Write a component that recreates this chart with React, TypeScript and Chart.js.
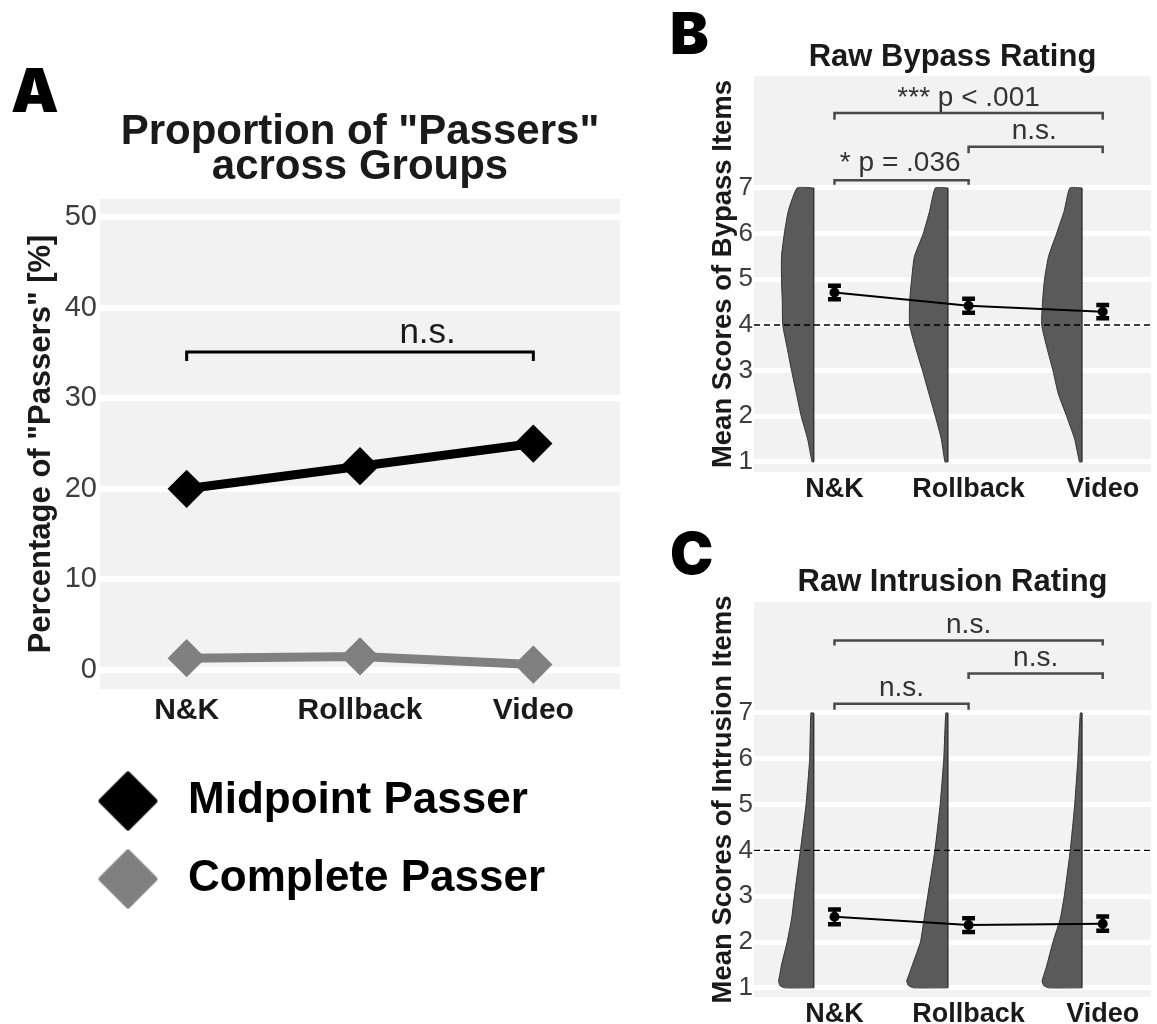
import React, { useEffect, useRef } from 'react';
import { Chart, registerables } from 'chart.js';

Chart.register(...registerables);
Chart.defaults.font.family = "'Liberation Sans', Arial, Helvetica, sans-serif";

// ---------- shared ----------
const GROUPS = ['N&K', 'Rollback', 'Video'];

// ---------- panel A data ----------
const PASS_TICKS = [0, 10, 20, 30, 40, 50];
const SERIES_NAMES = ['Midpoint Passer', 'Complete Passer'];
const MIDPOINT_PASSERS = [20, 22.5, 25];
const COMPLETE_PASSERS = [1.3, 1.5, 0.6];
const PASS_BRACKETS = [{ from: 1, to: 3, y: 35.1, drop: 34.1, label: 'n.s.', labelX: 2.39, labelY: 36.1 }];

// ---------- panel B / C data ----------
const RATING_TICKS = [1, 2, 3, 4, 5, 6, 7];
const SCALE_MIDPOINT = 4;

const BYPASS_MEAN = [4.71, 4.42, 4.29];
const BYPASS_SE = [0.15, 0.155, 0.145];
const BYPASS_LEVELS = [1, 1.5, 2, 2.5, 3, 3.5, 4, 4.5, 5, 5.5, 6, 6.5, 7];
const BYPASS_DENSITY_NK = [0.04, 0.15, 0.31, 0.43, 0.55, 0.66, 0.77, 0.78, 0.8, 0.8, 0.73, 0.63, 0.41];
const BYPASS_DENSITY_RB = [0.07, 0.16, 0.31, 0.47, 0.63, 0.8, 0.95, 0.95, 0.9, 0.83, 0.61, 0.45, 0.31];
const BYPASS_DENSITY_VD = [0.06, 0.18, 0.38, 0.59, 0.72, 0.87, 1.0, 0.98, 0.93, 0.83, 0.63, 0.44, 0.3];
const BYPASS_BRACKETS = [
  { from: 1, to: 3, y: 8.64, drop: 8.49, label: '*** p < .001', labelX: 2, labelY: 8.8 },
  { from: 2, to: 3, y: 7.9, drop: 7.76, label: 'n.s.', labelX: 2.49, labelY: 8.07 },
  { from: 1, to: 2, y: 7.17, drop: 7.07, label: '* p = .036', labelX: 1.49, labelY: 7.37 },
];

const INTRUSION_MEAN = [2.55, 2.37, 2.4];
const INTRUSION_SE = [0.16, 0.15, 0.155];
const INTRUSION_LEVELS = [1, 1.05, 1.15, 1.3, 1.5, 2, 2.5, 3, 4, 5, 6, 7];
const INTRUSION_DENSITY_NK = [0.73, 0.84, 0.87, 0.84, 0.8, 0.66, 0.55, 0.48, 0.33, 0.19, 0.1, 0.07];
const INTRUSION_DENSITY_RB = [0.85, 0.98, 1.02, 0.96, 0.88, 0.68, 0.59, 0.5, 0.32, 0.19, 0.1, 0.05];
const INTRUSION_DENSITY_VD = [0.83, 0.95, 0.99, 0.94, 0.87, 0.72, 0.54, 0.44, 0.29, 0.18, 0.1, 0.04];
const INTRUSION_BRACKETS = [
  { from: 1, to: 3, y: 8.58, drop: 8.47, label: 'n.s.', labelX: 2, labelY: 8.74 },
  { from: 2, to: 3, y: 7.86, drop: 7.74, label: 'n.s.', labelX: 2.5, labelY: 8.02 },
  { from: 1, to: 2, y: 7.2, drop: 7.07, label: 'n.s.', labelX: 1.5, labelY: 7.36 },
];

// ---------- styling constants ----------
const PANEL_BG = '#f2f2f2';
const VIOLIN_OFFSET = -0.155;
const VIOLIN_WIDTH = 0.3;
const CAP_HALF = 0.048;
const TEXT_DARK = '#1a1a1a';
const TICK_GREY = '#3d3d3d';

type Bracket = { from: number; to: number; y: number; drop: number; label: string; labelX: number; labelY: number };

function panelBgPlugin() {
  return {
    id: 'panelBg',
    beforeDraw(chart: any) {
      const { ctx, chartArea: ca } = chart;
      ctx.save();
      ctx.fillStyle = PANEL_BG;
      ctx.fillRect(ca.left, ca.top, ca.width, ca.height);
      ctx.restore();
    },
  };
}

function overlayPlugin(brackets: Bracket[], font: string, color: string, letter: string, lx: number, ly: number, letterFont: string) {
  return {
    id: 'overlay',
    afterDatasetsDraw(chart: any) {
      const { ctx } = chart;
      const xs = chart.scales.x;
      const ys = chart.scales.y;
      ctx.save();
      ctx.font = font;
      ctx.fillStyle = color;
      ctx.textAlign = 'center';
      ctx.textBaseline = 'alphabetic';
      brackets.forEach((b) => ctx.fillText(b.label, xs.getPixelForValue(b.labelX), ys.getPixelForValue(b.labelY)));
      ctx.restore();
    },
    afterDraw(chart: any) {
      const { ctx } = chart;
      ctx.save();
      ctx.font = letterFont;
      ctx.fillStyle = '#000';
      ctx.textAlign = 'left';
      ctx.textBaseline = 'alphabetic';
      ctx.fillText(letter, lx, ly);
      ctx.restore();
    },
  };
}

function bracketDataset(b: Bracket, color: string, width: number) {
  return {
    label: 'bracket',
    data: [
      { x: b.from, y: b.drop },
      { x: b.from, y: b.y },
      { x: b.to, y: b.y },
      { x: b.to, y: b.drop },
    ],
    borderColor: color,
    borderWidth: width,
    pointRadius: 0,
    fill: false,
    order: 3,
  };
}

function diamondMarker(color: string, shift: number, r: number) {
  const pad = 3;
  const c = document.createElement('canvas');
  c.width = Math.ceil((shift + r + pad) * 2);
  c.height = Math.ceil((r + pad) * 2);
  const g = c.getContext('2d')!;
  const cx = c.width / 2 + shift;
  const cy = c.height / 2;
  const rr = r - 2.5;
  g.beginPath();
  g.moveTo(cx, cy - rr);
  g.lineTo(cx + rr, cy);
  g.lineTo(cx, cy + rr);
  g.lineTo(cx - rr, cy);
  g.closePath();
  g.fillStyle = color;
  g.strokeStyle = color;
  g.lineWidth = 5;
  g.lineJoin = 'round';
  g.fill();
  g.stroke();
  return c;
}

function makePassersChart(canvas: HTMLCanvasElement) {
  const colors = ['#000000', '#808080'];
  const markers = colors.map((c) => diamondMarker(c, 28, 29.5));
  const series = [MIDPOINT_PASSERS, COMPLETE_PASSERS];
  const datasets: any[] = series.map((vals, si) => ({
    label: SERIES_NAMES[si],
    data: vals.map((y, i) => ({ x: i + 1, y })),
    borderColor: colors[si],
    backgroundColor: colors[si],
    borderWidth: 9,
    pointStyle: 'rectRot',
    pointRadius: 17,
    pointBorderWidth: 3,
    pointBackgroundColor: colors[si],
    pointBorderColor: colors[si],
    fill: false,
    order: si,
  }));
  PASS_BRACKETS.forEach((b) => datasets.push(bracketDataset(b, '#000000', 3)));

  return new Chart(canvas, {
    type: 'line',
    data: { datasets },
    plugins: [panelBgPlugin(), overlayPlugin(PASS_BRACKETS, '35px "Liberation Sans", Arial', TEXT_DARK, 'A', 11, 112, '900 60px Inter')],
    options: {
      responsive: false,
      animation: false,
      events: [],
      layout: { padding: { top: 0, left: 0, right: 12, bottom: 0 } },
      plugins: {
        tooltip: { enabled: false },
        title: {
          display: true,
          text: ['Proportion of "Passers"', 'across Groups'],
          fullSize: false,
          color: TEXT_DARK,
          font: { size: 42, weight: 'bold', lineHeight: 0.84 },
          padding: { top: 114.8, bottom: 13.6 },
        },
        legend: {
          display: true,
          position: 'bottom',
          align: 'start',
          fullSize: true,
          labels: {
            usePointStyle: true,
            pointStyleWidth: 132,
            boxHeight: 44,
            padding: 34,
            color: '#000',
            font: { size: 44, weight: 'bold' },
            filter: (item: any) => item.datasetIndex < 2,
            generateLabels: (chart: any) =>
              (Chart.defaults.plugins.legend.labels.generateLabels as any)(chart).map((it: any) => ({
                ...it,
                pointStyle: it.datasetIndex < 2 ? markers[it.datasetIndex] : it.pointStyle,
              })),
          },
        },
      },
      scales: {
        x: {
          type: 'linear',
          min: 0.5,
          max: 3.5,
          grid: { display: false },
          border: { display: false },
          afterBuildTicks: (s: any) => {
            s.ticks = GROUPS.map((_, i) => ({ value: i + 1 }));
          },
          afterFit: (s: any) => {
            s.height = 56;
          },
          ticks: {
            autoSkip: false,
            maxRotation: 0,
            padding: -4,
            color: TEXT_DARK,
            font: { size: 30, weight: 'bold' },
            callback: (v: any) => GROUPS[Math.round(Number(v)) - 1] ?? '',
          },
        },
        y: {
          type: 'linear',
          min: -2.1,
          max: 52,
          border: { display: false },
          grid: { color: '#ffffff', lineWidth: 6, drawTicks: false },
          afterBuildTicks: (s: any) => {
            s.ticks = PASS_TICKS.map((v) => ({ value: v }));
          },
          afterFit: (s: any) => {
            s.width = 100;
          },
          ticks: { padding: 3, color: TICK_GREY, font: { size: 29 } },
          title: {
            display: true,
            text: 'Percentage of "Passers" [%]',
            color: TEXT_DARK,
            font: { size: 31, weight: 'bold', lineHeight: 1.2 },
            padding: { top: 22.4, bottom: 0 },
          },
        },
      },
    } as any,
  });
}

type RatingSpec = {
  title: string;
  yTitle: string;
  means: number[];
  se: number[];
  levels: number[];
  densities: number[][];
  brackets: Bracket[];
  letter: string;
  yMin: number;
  yMax: number;
  titlePad: { top: number; bottom: number };
  xAxisHeight: number;
};

const X_MIN_R = 0.4;
const X_MAX_R = 3.36;

function makeRatingChart(canvas: HTMLCanvasElement, spec: RatingSpec) {
  const ds: any[] = [];
  spec.densities.forEach((dens, gi) => {
    const edge = gi + 1 + VIOLIN_OFFSET;
    const first = spec.levels[0];
    const last = spec.levels[spec.levels.length - 1];
    const contour = [
      { x: edge, y: first },
      ...spec.levels.map((y, k) => ({ x: edge - dens[k] * VIOLIN_WIDTH, y })),
      { x: edge, y: last },
    ];
    ds.push({
      label: 'violin ' + GROUPS[gi],
      type: 'line',
      indexAxis: 'y',
      data: contour,
      borderColor: '#333333',
      borderWidth: 1,
      backgroundColor: '#5a5a5a',
      fill: { value: edge },
      tension: 0.15,
      pointRadius: 0,
      order: 5,
    });
    ds.push({
      label: 'violin edge ' + GROUPS[gi],
      data: [
        { x: edge, y: first },
        { x: edge, y: last },
      ],
      borderColor: '#333333',
      borderWidth: 1.5,
      pointRadius: 0,
      fill: false,
      order: 4,
    });
  });
  ds.push({
    label: 'midpoint',
    data: [
      { x: X_MIN_R, y: SCALE_MIDPOINT },
      { x: X_MAX_R, y: SCALE_MIDPOINT },
    ],
    borderColor: '#000000',
    borderWidth: 1.4,
    borderDash: [6, 4],
    pointRadius: 0,
    fill: false,
    order: 3,
  });
  spec.brackets.forEach((b) => ds.push(bracketDataset(b, '#4a4a4a', 2.5)));
  const stems: any[] = [];
  const caps: any[] = [];
  spec.means.forEach((m, i) => {
    const x = i + 1;
    const lo = m - spec.se[i];
    const hi = m + spec.se[i];
    stems.push({ x, y: lo }, { x, y: hi }, { x, y: null });
    caps.push({ x: x - CAP_HALF, y: hi }, { x: x + CAP_HALF, y: hi }, { x, y: null });
    caps.push({ x: x - CAP_HALF, y: lo }, { x: x + CAP_HALF, y: lo }, { x, y: null });
  });
  ds.push({ label: 'se', data: stems, borderColor: '#000', borderWidth: 3, pointRadius: 0, fill: false, order: 1 });
  ds.push({ label: 'se caps', data: caps, borderColor: '#000', borderWidth: 4.5, pointRadius: 0, fill: false, order: 1 });
  ds.push({
    label: 'mean',
    data: spec.means.map((m, i) => ({ x: i + 1, y: m })),
    borderColor: '#000',
    borderWidth: 2,
    pointRadius: 4,
    pointBackgroundColor: '#000',
    pointBorderColor: '#000',
    fill: false,
    order: 0,
  });

  return new Chart(canvas, {
    type: 'line',
    data: { datasets: ds },
    plugins: [panelBgPlugin(), overlayPlugin(spec.brackets, '28px "Liberation Sans", Arial', '#333333', spec.letter, 30, 54, '900 58px Inter')],
    options: {
      responsive: false,
      animation: false,
      events: [],
      layout: { padding: 0 },
      plugins: {
        tooltip: { enabled: false },
        legend: { display: false },
        title: {
          display: true,
          text: spec.title,
          fullSize: false,
          color: TEXT_DARK,
          font: { size: 31, weight: 'bold', lineHeight: 1.2 },
          padding: spec.titlePad,
        },
      },
      scales: {
        x: {
          type: 'linear',
          min: X_MIN_R,
          max: X_MAX_R,
          grid: { display: false },
          border: { display: false },
          afterBuildTicks: (s: any) => {
            s.ticks = GROUPS.map((_, i) => ({ value: i + 1 }));
          },
          afterFit: (s: any) => {
            s.height = spec.xAxisHeight;
          },
          ticks: {
            autoSkip: false,
            maxRotation: 0,
            padding: -7,
            color: TEXT_DARK,
            font: { size: 27, weight: 'bold' },
            callback: (v: any) => GROUPS[Math.round(Number(v)) - 1] ?? '',
          },
        },
        y: {
          type: 'linear',
          min: spec.yMin,
          max: spec.yMax,
          border: { display: false },
          grid: { color: '#ffffff', lineWidth: 5, drawTicks: false },
          afterBuildTicks: (s: any) => {
            s.ticks = RATING_TICKS.map((v) => ({ value: v }));
          },
          afterFit: (s: any) => {
            s.width = 114;
          },
          ticks: { padding: 1, color: TICK_GREY, font: { size: 26 } },
          title: {
            display: true,
            text: spec.yTitle,
            color: TEXT_DARK,
            font: { size: 27.5, weight: 'bold', lineHeight: 1.2 },
            padding: { top: 67, bottom: 0 },
          },
        },
      },
    } as any,
  });
}

export default function App() {
  const refA = useRef<HTMLCanvasElement>(null);
  const refB = useRef<HTMLCanvasElement>(null);
  const refC = useRef<HTMLCanvasElement>(null);

  useEffect(() => {
    const a = makePassersChart(refA.current!);
    const b = makeRatingChart(refB.current!, {
      title: 'Raw Bypass Rating',
      yTitle: 'Mean Scores of Bypass Items',
      means: BYPASS_MEAN,
      se: BYPASS_SE,
      levels: BYPASS_LEVELS,
      densities: [BYPASS_DENSITY_NK, BYPASS_DENSITY_RB, BYPASS_DENSITY_VD],
      brackets: BYPASS_BRACKETS,
      letter: 'B',
      yMin: 0.78,
      yMax: 9.45,
      titlePad: { top: 38.7, bottom: 0.1 },
      xAxisHeight: 38,
    });
    const c = makeRatingChart(refC.current!, {
      title: 'Raw Intrusion Rating',
      yTitle: 'Mean Scores of Intrusion Items',
      means: INTRUSION_MEAN,
      se: INTRUSION_SE,
      levels: INTRUSION_LEVELS,
      densities: [INTRUSION_DENSITY_NK, INTRUSION_DENSITY_RB, INTRUSION_DENSITY_VD],
      brackets: INTRUSION_BRACKETS,
      letter: 'C',
      yMin: 0.8,
      yMax: 9.42,
      titlePad: { top: 43.7, bottom: 1.1 },
      xAxisHeight: 27,
    });
    return () => {
      a.destroy();
      b.destroy();
      c.destroy();
    };
  }, []);

  return (
    <div style={{ position: 'absolute', left: 0, top: 0, width: 1157, height: 1024, background: '#ffffff', overflow: 'hidden' }}>
      <canvas ref={refA} width={640} height={911} style={{ position: 'absolute', left: 0, top: 0 }} />
      <canvas ref={refB} width={517} height={510} style={{ position: 'absolute', left: 640, top: 0 }} />
      <canvas ref={refC} width={517} height={504} style={{ position: 'absolute', left: 640, top: 520 }} />
    </div>
  );
}
